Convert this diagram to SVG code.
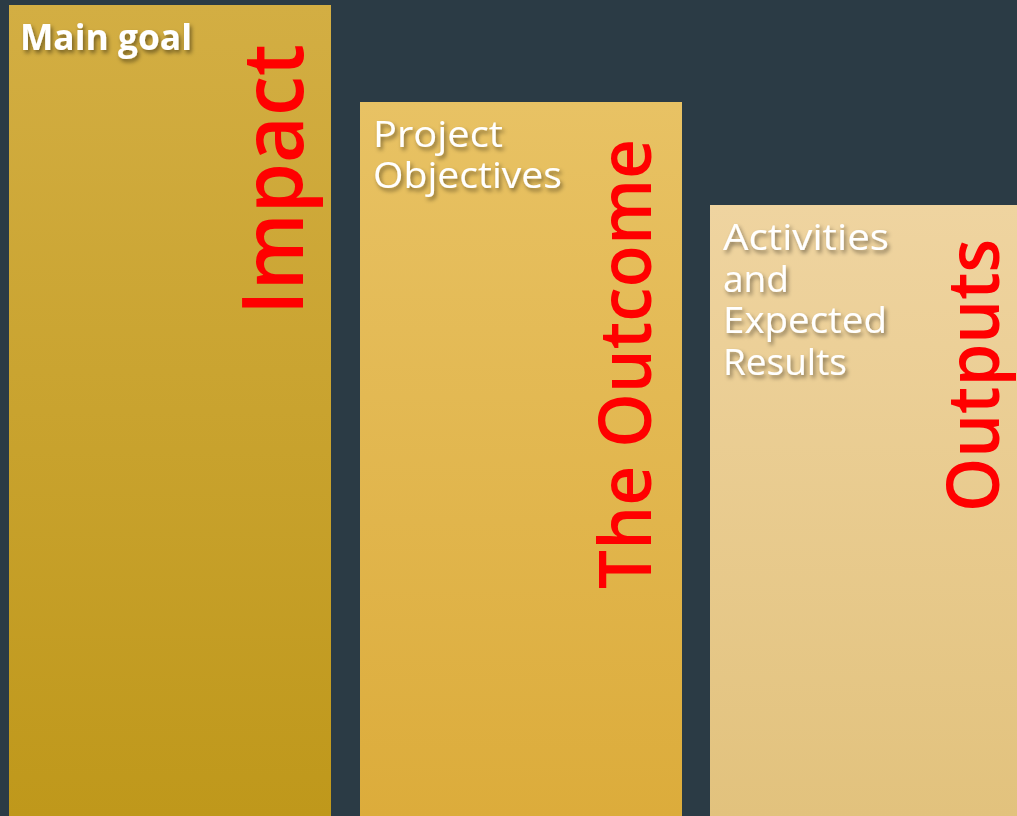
<svg xmlns="http://www.w3.org/2000/svg" width="1017" height="816" viewBox="0 0 1017 816">
<defs>
<linearGradient id="g1" x1="0" y1="0" x2="0" y2="1"><stop offset="0" stop-color="#d3ae43"/><stop offset="1" stop-color="#bf981b"/></linearGradient>
<linearGradient id="g2" x1="0" y1="0" x2="0" y2="1"><stop offset="0" stop-color="#e8c264"/><stop offset="1" stop-color="#dcac3b"/></linearGradient>
<linearGradient id="g3" x1="0" y1="0" x2="0" y2="1"><stop offset="0" stop-color="#efd4a0"/><stop offset="1" stop-color="#e2c27d"/></linearGradient>
<filter id="sh" x="-10%" y="-30%" width="130%" height="170%"><feDropShadow dx="2" dy="3" stdDeviation="2" flood-color="#000" flood-opacity="0.45"/></filter>
<style>
.lbl{font-family:"Open Sans","DejaVu Sans",sans-serif;font-size:37px;fill:#ffffff;filter:url(#sh)}
.b{font-weight:bold;font-size:35px}
.red{font-family:"Open Sans","DejaVu Sans",sans-serif;font-weight:600;fill:#ff0000}
</style>
</defs>
<rect width="1017" height="816" fill="#2b3b45"/>
<g id="impact">
<rect x="9" y="5" width="322" height="811" fill="url(#g1)"/>
<text class="lbl b" x="20" y="50" textLength="172" lengthAdjust="spacingAndGlyphs">Main goal</text>
<text class="red" font-size="85" transform="translate(303,315) rotate(-90)" textLength="271" lengthAdjust="spacingAndGlyphs">Impact</text>
</g>
<g id="outcome">
<rect x="360" y="102" width="322" height="714" fill="url(#g2)"/>
<text class="lbl" x="373" y="147" textLength="130" lengthAdjust="spacingAndGlyphs">Project</text>
<text class="lbl" x="373" y="188" textLength="189" lengthAdjust="spacingAndGlyphs">Objectives</text>
<text class="red" font-size="73" transform="translate(651,589) rotate(-90)" textLength="450" lengthAdjust="spacingAndGlyphs">The Outcome</text>
</g>
<g id="outputs">
<rect x="710" y="205" width="307" height="611" fill="url(#g3)"/>
<text class="lbl" x="723" y="250" textLength="166" lengthAdjust="spacingAndGlyphs">Activities</text>
<text class="lbl" x="723" y="292">and</text>
<text class="lbl" x="723" y="333" textLength="164" lengthAdjust="spacingAndGlyphs">Expected</text>
<text class="lbl" x="723" y="375" textLength="124" lengthAdjust="spacingAndGlyphs">Results</text>
<text class="red" font-size="73" transform="translate(999,512) rotate(-90)" textLength="273" lengthAdjust="spacingAndGlyphs">Outputs</text>
</g>
<g id="connectors"/>
</svg>
